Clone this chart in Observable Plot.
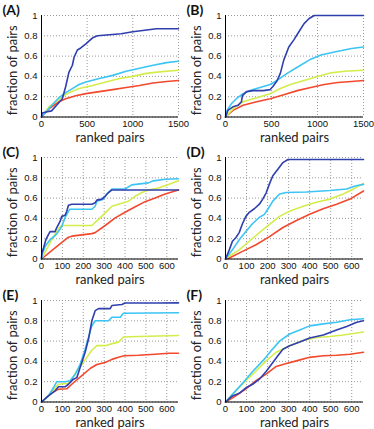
<!DOCTYPE html>
<html>
<head>
<meta charset="utf-8">
<script src="https://cdn.jsdelivr.net/npm/d3@7"></script>
<script src="https://cdn.jsdelivr.net/npm/@observablehq/plot@0.6"></script>
<style>
  body { margin: 0; background: #fff; }
  #wrap { position: relative; width: 374px; height: 429px; background: #fff; overflow: hidden; }
  .cell { position: absolute; }
  .cell svg { overflow: visible; }
</style>
</head>
<body>
<div id="wrap"></div>
<script>
// ---- data ----
const panelLabels = ["(A)", "(B)", "(C)", "(D)", "(E)", "(F)"];
const seriesColors = ["#f2492e", "#d4ec4c", "#3cc4f4", "#2f3fae"]; // red, yellow, cyan, blue
const yTicks = [0, 0.2, 0.4, 0.6, 0.8, 1];
const xTicksLong = [0, 500, 1000, 1500];
const xTicksShort = [0, 100, 200, 300, 400, 500, 600];
const xLabel = "ranked pairs";
const yLabel = "fraction of pairs";

const A_blue = [[0,0],[8,0.04],[50,0.05],[110,0.06],[170,0.12],[228,0.18],[265,0.30],[300,0.44],[338,0.51],[357,0.59],[393,0.66],[430,0.68],[486,0.72],[522,0.75],[560,0.78],[614,0.80],[743,0.81],[872,0.82],[1000,0.84],[1130,0.855],[1260,0.87],[1500,0.87]];
const A_cyan = [[0,0],[50,0.05],[118,0.12],[191,0.19],[265,0.24],[338,0.28],[412,0.32],[486,0.345],[633,0.38],[780,0.41],[927,0.45],[1074,0.48],[1222,0.51],[1370,0.536],[1500,0.55]];
const A_yellow = [[0,0],[81,0.10],[155,0.15],[228,0.20],[301,0.24],[412,0.28],[560,0.31],[706,0.345],[854,0.38],[1000,0.40],[1147,0.43],[1294,0.445],[1500,0.46]];
const A_red = [[0,0],[81,0.08],[191,0.15],[265,0.18],[375,0.21],[486,0.23],[633,0.25],[780,0.27],[927,0.29],[1074,0.31],[1220,0.335],[1370,0.35],[1500,0.36]];

const B_blue = [[0,0],[26,0.065],[81,0.10],[136,0.115],[173,0.15],[184,0.21],[228,0.25],[301,0.26],[412,0.26],[486,0.27],[515,0.30],[559,0.355],[596,0.43],[633,0.56],[688,0.69],[743,0.76],[798,0.84],[854,0.92],[909,0.97],[965,1.0],[1500,1.0]];
const B_cyan = [[0,0],[7,0.05],[63,0.13],[118,0.18],[191,0.23],[265,0.26],[375,0.29],[486,0.32],[560,0.36],[670,0.43],[780,0.49],[927,0.57],[1037,0.61],[1185,0.64],[1370,0.675],[1500,0.69]];
const B_yellow = [[0,0],[81,0.08],[191,0.15],[338,0.19],[486,0.23],[596,0.28],[706,0.32],[854,0.36],[1000,0.40],[1147,0.435],[1294,0.45],[1500,0.46]];
const B_red = [[0,0],[81,0.065],[191,0.115],[338,0.15],[486,0.18],[633,0.22],[780,0.26],[927,0.29],[1074,0.32],[1220,0.34],[1370,0.35],[1500,0.36]];

const C_blue = [[0,0],[2,0.06],[10,0.11],[21,0.19],[33,0.24],[41,0.27],[65,0.27],[73,0.31],[89,0.37],[97,0.42],[113,0.43],[121,0.47],[129,0.53],[145,0.54],[241,0.54],[257,0.555],[265,0.58],[289,0.59],[305,0.62],[321,0.655],[337,0.68],[400,0.68],[656,0.68]];
const C_cyan = [[0,0],[2,0.04],[18,0.125],[41,0.19],[65,0.23],[81,0.27],[97,0.32],[113,0.41],[129,0.47],[137,0.49],[241,0.49],[257,0.52],[265,0.57],[297,0.59],[313,0.64],[337,0.69],[400,0.69],[432,0.73],[512,0.75],[536,0.77],[592,0.785],[656,0.79]];
const C_yellow = [[0,0],[49,0.19],[81,0.30],[97,0.33],[241,0.33],[273,0.39],[305,0.455],[337,0.52],[369,0.54],[417,0.57],[449,0.62],[481,0.655],[512,0.68],[560,0.70],[608,0.735],[656,0.77]];
const C_red = [[0,0],[65,0.11],[129,0.215],[145,0.225],[241,0.25],[257,0.26],[305,0.33],[353,0.405],[400,0.46],[449,0.515],[496,0.565],[544,0.60],[592,0.64],[656,0.68]];

const D_blue = [[0,0],[2,0.01],[18,0.09],[33,0.175],[49,0.21],[65,0.26],[81,0.35],[97,0.42],[113,0.46],[137,0.495],[161,0.54],[177,0.59],[193,0.65],[209,0.74],[225,0.82],[249,0.885],[273,0.95],[297,0.98],[337,0.98],[656,0.98]];
const D_cyan = [[0,0],[10,0.03],[33,0.09],[65,0.19],[97,0.27],[129,0.35],[161,0.41],[185,0.44],[201,0.49],[225,0.57],[257,0.64],[289,0.655],[384,0.66],[496,0.675],[576,0.69],[616,0.72],[656,0.735]];
const D_yellow = [[0,0],[18,0.03],[65,0.09],[113,0.175],[161,0.26],[209,0.34],[257,0.42],[305,0.47],[369,0.52],[432,0.56],[496,0.59],[560,0.64],[608,0.69],[656,0.745]];
const D_red = [[0,0],[18,0.01],[81,0.075],[145,0.14],[209,0.22],[273,0.31],[337,0.38],[400,0.44],[464,0.495],[528,0.54],[592,0.59],[656,0.67]];

const E_blue = [[0,0],[33,0.06],[65,0.11],[81,0.15],[113,0.15],[129,0.175],[153,0.225],[169,0.24],[185,0.34],[209,0.49],[225,0.62],[241,0.80],[257,0.90],[273,0.92],[329,0.92],[337,0.95],[385,0.96],[400,0.975],[560,0.975],[656,0.977]];
const E_cyan = [[0,0],[33,0.06],[57,0.14],[73,0.20],[113,0.20],[137,0.21],[161,0.27],[185,0.37],[209,0.52],[241,0.75],[257,0.80],[321,0.80],[337,0.835],[377,0.835],[392,0.875],[656,0.88]];
const E_yellow = [[0,0],[33,0.06],[65,0.14],[81,0.175],[129,0.185],[145,0.225],[169,0.31],[193,0.37],[217,0.44],[241,0.51],[265,0.555],[305,0.555],[329,0.57],[369,0.59],[392,0.64],[465,0.645],[656,0.655]];
const E_red = [[0,0],[49,0.09],[81,0.125],[121,0.13],[145,0.175],[193,0.26],[233,0.33],[265,0.37],[305,0.39],[337,0.42],[369,0.44],[396,0.455],[465,0.46],[544,0.47],[608,0.48],[656,0.48]];

const F_blue = [[0,0],[33,0.06],[65,0.085],[97,0.14],[129,0.175],[161,0.225],[193,0.30],[225,0.39],[249,0.455],[273,0.52],[305,0.555],[353,0.59],[400,0.63],[465,0.66],[528,0.71],[576,0.745],[624,0.785],[656,0.80]];
const F_cyan = [[0,0],[33,0.075],[81,0.185],[129,0.30],[177,0.405],[217,0.505],[257,0.60],[305,0.67],[353,0.71],[400,0.75],[465,0.77],[528,0.785],[592,0.81],[656,0.82]];
const F_yellow = [[0,0],[49,0.11],[97,0.21],[145,0.305],[193,0.405],[241,0.49],[305,0.555],[369,0.605],[432,0.635],[496,0.645],[560,0.66],[656,0.69]];
const F_red = [[0,0],[49,0.06],[97,0.13],[145,0.21],[193,0.275],[241,0.35],[289,0.38],[337,0.405],[400,0.44],[465,0.455],[528,0.46],[592,0.47],[656,0.49]];

const xMaxLong = 1500;
const xMaxShort = 656;

// ---- layout ----
const panels = [
  {label: panelLabels[0], series: [A_red, A_yellow, A_cyan, A_blue], xmax: xMaxLong, xticks: xTicksLong, col: 0, row: 0},
  {label: panelLabels[1], series: [B_red, B_yellow, B_cyan, B_blue], xmax: xMaxLong, xticks: xTicksLong, col: 1, row: 0},
  {label: panelLabels[2], series: [C_red, C_yellow, C_cyan, C_blue], xmax: xMaxShort, xticks: xTicksShort, col: 0, row: 1},
  {label: panelLabels[3], series: [D_red, D_yellow, D_cyan, D_blue], xmax: xMaxShort, xticks: xTicksShort, col: 1, row: 1},
  {label: panelLabels[4], series: [E_red, E_yellow, E_cyan, E_blue], xmax: xMaxShort, xticks: xTicksShort, col: 0, row: 2},
  {label: panelLabels[5], series: [F_red, F_yellow, F_cyan, F_blue], xmax: xMaxShort, xticks: xTicksShort, col: 1, row: 2}
];
const colLeft = [0, 184];
const colWidth = [187, 190];
const colMarginRight = [9, 11];
const rowTop = [0, 142, 285];

const tickFont = "'Liberation Sans', Arial, sans-serif";
const labelFont = "Lato, 'Open Sans', sans-serif";

const wrap = document.getElementById("wrap");
for (const p of panels) {
  const lines = p.series.map((s, i) =>
    Plot.line(s, {x: d => d[0], y: d => d[1], stroke: seriesColors[i], strokeWidth: 1.6})
  );
  const chart = Plot.plot({
    width: colWidth[p.col],
    height: 143,
    marginTop: 15,
    marginBottom: 26.5,
    marginLeft: 41,
    marginRight: colMarginRight[p.col],
    x: {domain: [0, p.xmax]},
    y: {domain: [0, 1]},
    style: {fontFamily: tickFont, fontSize: "9.5px", background: "transparent", color: "#111", overflow: "visible"},
    marks: [
      Plot.gridX(p.xticks, {stroke: "#9a9a9a", strokeOpacity: 1, strokeDasharray: "1,2"}),
      Plot.gridY(yTicks, {stroke: "#9a9a9a", strokeOpacity: 1, strokeDasharray: "1,2"}),
      Plot.axisX(p.xticks, {tickSize: 0, tickPadding: 3, label: null, fill: "#111", tickFormat: d => String(d)}),
      Plot.axisY(yTicks, {tickSize: 0, tickPadding: 4, label: null, fill: "#111", tickFormat: d => String(d)}),
      ...lines,
      Plot.ruleX([0], {stroke: "#000", strokeWidth: 1}),
      Plot.ruleY([0], {stroke: "#000", strokeWidth: 1}),
      Plot.text([xLabel], {frameAnchor: "bottom", dy: 16, lineAnchor: "top", textAnchor: "middle", fontSize: 13, fontFamily: labelFont, fill: "#222"}),
      Plot.text([yLabel], {frameAnchor: "left", dx: -29, dy: 4, rotate: -90, textAnchor: "middle", lineAnchor: "middle", fontSize: 13, fontFamily: labelFont, fill: "#222"}),
      Plot.text([p.label], {frameAnchor: "top-left", dx: -39, dy: -10, lineAnchor: "top", textAnchor: "start", fontSize: 14, fontWeight: "bold", fontFamily: labelFont, fill: "#111"})
    ]
  });
  const cell = document.createElement("div");
  cell.className = "cell";
  cell.style.left = colLeft[p.col] + "px";
  cell.style.top = rowTop[p.row] + "px";
  cell.appendChild(chart);
  wrap.appendChild(cell);
}
</script>
</body>
</html>
